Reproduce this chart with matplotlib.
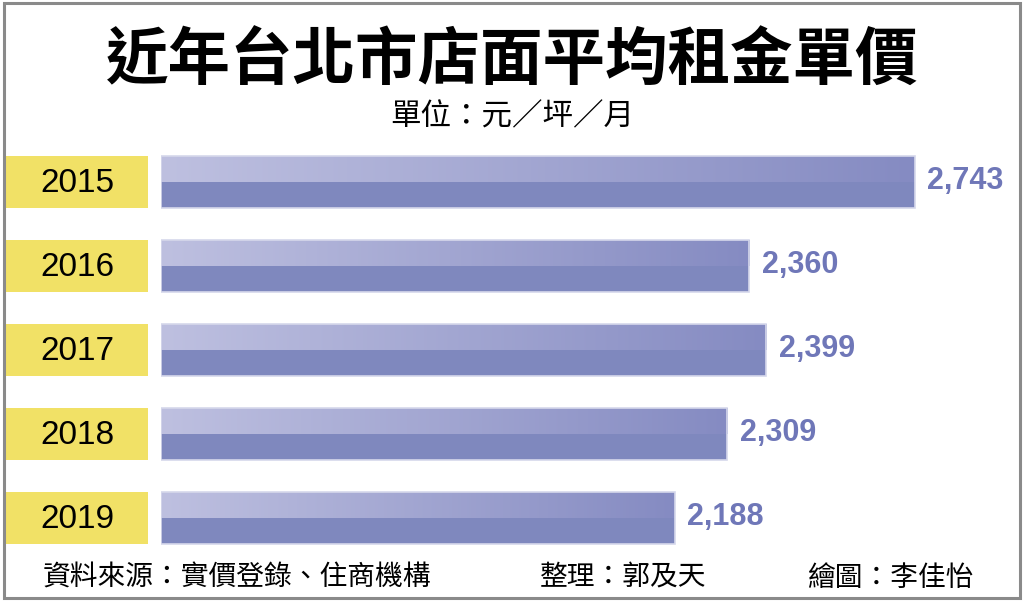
import numpy as np
import matplotlib
matplotlib.use("Agg")
import matplotlib.pyplot as plt
from matplotlib.colors import LinearSegmentedColormap
from matplotlib.patches import Rectangle
from matplotlib.transforms import blended_transform_factory

plt.rcParams["font.family"] = ["Noto Sans CJK TC", "DejaVu Sans"]

# ---------------------------------------------------------------------------
# Data
# ---------------------------------------------------------------------------
years  = ["2015", "2016", "2017", "2018", "2019"]
rents  = [2743, 2360, 2399, 2309, 2188]
labels = ["2,743", "2,360", "2,399", "2,309", "2,188"]

title    = "近年台北市店面平均租金單價"
unit     = "單位：元／坪／月"
source   = "資料來源：實價登錄、住商機構"
editor   = "整理：郭及天"
artist   = "繪圖：李佳怡"

# ---------------------------------------------------------------------------
# Style
# ---------------------------------------------------------------------------
W, H = 1024, 605
BASE = 1000                     # bars start at 1,000 (truncated axis)
BAR_H = 0.61
YELLOW = "#F1E166"
TOP_L, TOP_R = "#BEC0E0", "#858BC2"
BOTTOM = "#7F88BE"
VALUE_C = "#6F77B8"

grad = LinearSegmentedColormap.from_list("bar", [TOP_L, TOP_R])

fig = plt.figure(figsize=(W / 100, H / 100), dpi=100)
fig.patch.set_facecolor("white")

# outer frame
fig.add_artist(Rectangle((4 / W, 1 - 598 / H), 1016 / W, 595 / H,
                         transform=fig.transFigure, fill=False,
                         edgecolor="#8a8a8a", linewidth=2.2))

# ── bar axes ──────────────────────────────────────────────────────────────
x0 = 161
px_per_unit = (915 - x0) / (rents[0] - BASE)
ax = fig.add_axes([x0 / W, 1 - 560 / H, (W - x0) / W, 420 / H])
ax.set_axis_off()

ypos = np.arange(len(years))
for y, v, lab in zip(ypos, rents, labels):
    # darker lower half
    ax.barh(y + BAR_H / 4, v - BASE, height=BAR_H / 2, left=BASE,
            color=BOTTOM, edgecolor="none")
    # lighter gradient upper half
    ax.imshow(np.linspace(0, 1, 256).reshape(1, -1), cmap=grad,
              extent=(BASE, v, y, y - BAR_H / 2), aspect="auto",
              interpolation="bilinear")
    ax.add_patch(Rectangle((BASE, y - BAR_H / 2), v - BASE, BAR_H,
                           fill=False, edgecolor="#D6D8EB", linewidth=1.2))
    ax.annotate(lab, (v, y), xytext=(9, 1), textcoords="offset points",
                ha="left", va="center", fontsize=22, fontweight="bold",
                color=VALUE_C, family=["Liberation Sans"])

ax.set_xlim(BASE, BASE + (W - x0) / px_per_unit)
ax.set_ylim(len(years) - 0.5, -0.5)

# year tags in yellow boxes
blend = blended_transform_factory(fig.transFigure, ax.transData)
for y, yr in zip(ypos, years):
    ax.add_patch(Rectangle((6 / W, y - BAR_H / 2), 142 / W, BAR_H,
                           transform=blend, facecolor=YELLOW,
                           edgecolor="none", clip_on=False))
    ax.text(77 / W, y + 0.02, yr, transform=blend, ha="center", va="center",
            fontsize=24, color="black", family=["Liberation Sans"])

# ── texts ─────────────────────────────────────────────────────────────────
fig.text(0.5, 1 - 61 / H, title, ha="center", va="center",
         fontsize=45, fontweight="bold", color="black")
fig.text(0.5, 1 - 117 / H, unit, ha="center", va="center",
         fontsize=22, color="black")
fig.text(43 / W, 1 - 578 / H, source, ha="left", va="center",
         fontsize=20, color="black")
fig.text(540 / W, 1 - 578 / H, editor, ha="left", va="center",
         fontsize=20, color="black")
fig.text(807 / W, 1 - 578 / H, artist, ha="left", va="center",
         fontsize=20, color="black")

fig.savefig("out.png", dpi=100)
